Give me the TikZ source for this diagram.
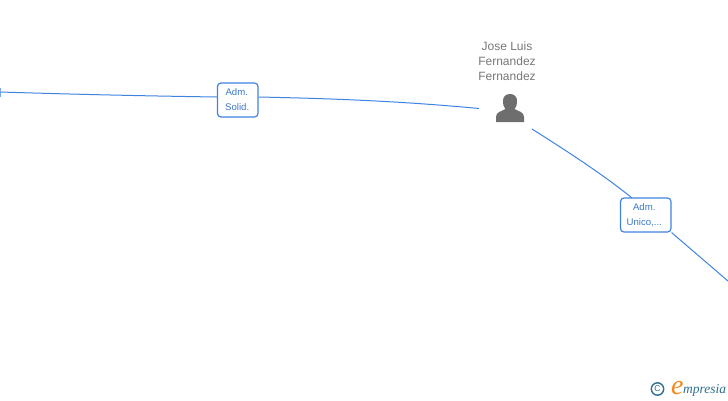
\documentclass[tikz,border=0pt]{standalone}
\usepackage{fontspec}
\setmainfont{Liberation Sans}
\newfontfamily\logofont{Liberation Serif}
\definecolor{linkblue}{HTML}{3F83E0}
\definecolor{labelblue}{HTML}{3A78D0}
\definecolor{namegray}{HTML}{777777}
\definecolor{persongray}{HTML}{6E6E6E}
\definecolor{logoteal}{HTML}{2F6F8F}
\definecolor{logoorange}{HTML}{F08A1D}
\tikzset{
  linkline/.style={draw=linkblue,line width=1pt},
  rolebox/.style={draw=linkblue,line width=1.2pt,rounded corners=3.5pt,fill=white,inner sep=0pt,align=center,text=labelblue,font=\fontsize{9.6}{15}\selectfont},
  personname/.style={align=center,text=namegray,font=\fontsize{12}{15}\selectfont,inner sep=0pt},
}
\begin{document}
\begin{tikzpicture}[x=1pt,y=-1pt]
\useasboundingbox (0,0) rectangle (728,400);
\coordinate (farleft) at (0,92);
\coordinate (personL) at (479,108.5);
\coordinate (personR) at (532,129);
\coordinate (farright) at (728,281);
\node[rolebox,minimum width=40.5pt,minimum height=34pt] (solid) at (237.75,100) {\raisebox{-1.5pt}{\hspace*{-2pt}Adm.}\\\raisebox{-1.5pt}{\hspace*{-1pt}Solid.}};
\node[rolebox,minimum width=50.5pt,minimum height=34pt] (unico) at (645.75,215) {\raisebox{-1.5pt}{\hspace*{-3pt}Adm.}\\\raisebox{-1.5pt}{\hspace*{-3pt}Unico,...}};
\node[personname] (name) at (507,61.5) {Jose Luis\\Fernandez\\Fernandez};
\draw[linkline] (personL) .. controls (400,101) and (330,98.5) .. (solid.east |- 0,97);
\draw[linkline] (solid.west |- 0,97) .. controls (150,96) and (80,94.5) .. (farleft);
\draw[linkline] (personR) .. controls (570,153) and (605,176) .. (632,198);
\draw[linkline] (unico.south east) -- (farright);
\draw[draw=linkblue!70,line width=1.2pt] (0.6,87.5) -- (0.6,97);
\fill[persongray] (496,122) -- (496,117) .. controls (496,112) and (501,111.5) .. (505.5,109)
  .. controls (503,106) and (503,103.5) .. (503,100.5)
  .. controls (503,96.5) and (506,94) .. (510,94)
  .. controls (514,94) and (517,96.5) .. (517,100.5)
  .. controls (517,103.5) and (517,106) .. (514.5,109)
  .. controls (519,111.5) and (524,112) .. (524,117) -- (524,122) -- cycle;
\draw[logoteal,line width=1.4pt] (657.5,389) circle (6.2pt);
\node[inner sep=0pt,text=logoteal,font=\fontsize{8.5}{8.5}\selectfont] (copy) at (657.5,389) {C};
\node[inner sep=0pt,anchor=base west,text=logoorange,font=\logofont\itshape\fontsize{28}{28}\selectfont] (logoe) at (671,394) {e};
\node[inner sep=0pt,anchor=base west,text=logoteal,font=\logofont\itshape\fontsize{13.5}{14}\selectfont] (logot) at (683,393) {mpresia};
\end{tikzpicture}
\end{document}
